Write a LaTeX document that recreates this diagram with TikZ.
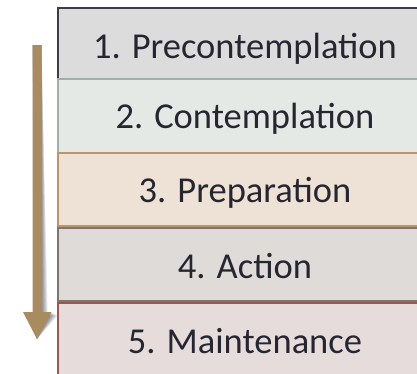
\documentclass[tikz,border=0pt]{standalone}
\usepackage{fontspec}
\setmainfont{Carlito}
\usetikzlibrary{calc}
\begin{document}
\begin{tikzpicture}[x=1pt,y=-1pt,
  stagebox/.style={rectangle,minimum width=374pt,line width=1.3pt,inner sep=0pt},
  stagetext/.style={anchor=base,text=textdark,font=\fontsize{36.5}{42}\selectfont,inner sep=0pt}]
\definecolor{textdark}{HTML}{262631}
\definecolor{arrowbrown}{HTML}{A98B61}
\definecolor{bdA}{HTML}{3C3C4A}\definecolor{edA}{HTML}{DCDCDD}\definecolor{miA}{HTML}{B9B9BB}
\definecolor{bdB}{HTML}{9EB0A8}\definecolor{edB}{HTML}{E4E9E6}\definecolor{miB}{HTML}{D2D9D5}
\definecolor{bdC}{HTML}{B8956A}\definecolor{edC}{HTML}{EEE2D6}\definecolor{miC}{HTML}{DFCAB6}
\definecolor{bdD}{HTML}{7F7570}\definecolor{edD}{HTML}{DEDBD8}\definecolor{miD}{HTML}{C9C4C0}
\definecolor{bdE}{HTML}{A05450}\definecolor{edE}{HTML}{E6DCDC}\definecolor{miE}{HTML}{D2BEBE}
\useasboundingbox (0,0) rectangle (417,373);
\clip (0,0) rectangle (417,373);

% the five stages, each lighter at its sides than in its middle
\node[stagebox,minimum height=71pt,draw=bdA,left color=edA,middle color=miA,right color=edA] (s1) at (245,43.5) {};
\node[stagebox,minimum height=74pt,draw=bdB,left color=edB,middle color=miB,right color=edB] (s2) at (245,116) {};
\node[stagebox,minimum height=73pt,draw=bdC,left color=edC,middle color=miC,right color=edC] (s3) at (245,189.5) {};
\node[stagebox,minimum height=73pt,draw=bdD,left color=edD,middle color=miD,right color=edD] (s4) at (245,264.5) {};
\node[stagebox,minimum height=73pt,draw=bdE,left color=edE,middle color=miE,right color=edE] (s5) at (245,339.5) {};

\node[stagetext] (t1) at (245,58) {1. Precontemplation};
\node[stagetext] (t2) at (245,128) {2. Contemplation};
\node[stagetext] (t3) at (245,202) {3. Preparation};
\node[stagetext] (t4) at (245,278) {4. Action};
\node[stagetext] (t5) at (245,353) {5. Maintenance};

% downward arrow with a soft shadow to its right
\coordinate (atop) at (37,45);
\coordinate (atip) at (37,339);
\foreach \s in {1,...,7}{
  \fill[black,opacity=0.08,shift={(\s*0.9,\s*0.5)}]
    ($(atop)+(-4.5,0)$) -- ($(atop)+(4.5,0)$) -- (41.5,312) -- (51.5,312) -- (atip) -- (23,312) -- (32.5,312) -- cycle;
}
\fill[arrowbrown] ($(atop)+(-4.5,0)$) -- ($(atop)+(4.5,0)$) -- (41.5,312) -- (51.5,312) -- (atip) -- (23,312) -- (32.5,312) -- cycle;
\end{tikzpicture}
\end{document}
